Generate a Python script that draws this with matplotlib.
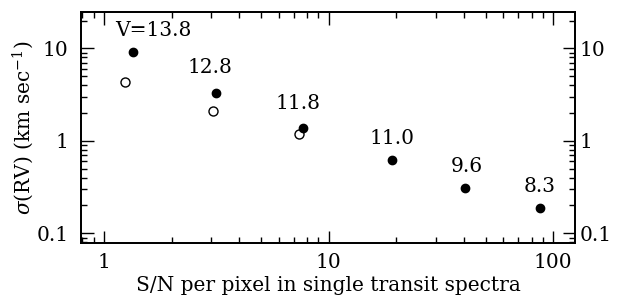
import matplotlib
matplotlib.use("Agg")
import matplotlib.pyplot as plt
from matplotlib.ticker import LogLocator, FuncFormatter, NullFormatter

# Data
snr_filled = [1.35, 3.14, 7.7, 19.2, 40.4, 86.9]
sig_filled = [9.2, 3.31, 1.37, 0.615, 0.306, 0.189]
snr_open = [1.245, 3.07, 7.39]
sig_open = [4.33, 2.1, 1.18]
vmag_labels = ["V=13.8", "12.8", "11.8", "11.0", "9.6", "8.3"]
label_offsets = [(14.4, 15.0), (-4.3, 18.2), (-4, 17.5), (0, 16.0), (1.4, 15.5), (0, 15.5)]

plt.rcParams['font.family'] = ['DejaVu Serif']
plt.rcParams['mathtext.fontset'] = 'dejavuserif'
FS = 14.5

fig = plt.figure(figsize=(6.17, 2.98), dpi=100)
ax = fig.add_axes([0.1313, 0.1846, 0.932 - 0.1313, 0.9607 - 0.1846])

ax.plot(snr_filled, sig_filled, 'o', color='black', markersize=6, zorder=3)
ax.plot(snr_open, sig_open, 'o', markerfacecolor='white', markeredgecolor='black',
        markeredgewidth=1.0, markersize=6.5, zorder=2)

for x, y, lab, off in zip(snr_filled, sig_filled, vmag_labels, label_offsets):
    ax.annotate(lab, (x, y), xytext=off, textcoords='offset points',
                ha='center', va='center', fontsize=FS)

ax.set_xscale('log')
ax.set_yscale('log')
ax.set_xlim(0.79, 125)
ax.set_ylim(0.0786, 24.9)

ax2 = ax.twinx()
ax2.set_yscale('log')
ax2.set_ylim(ax.get_ylim())

fmt = FuncFormatter(lambda v, p: '%g' % v)
for axis in (ax.xaxis, ax.yaxis, ax2.yaxis):
    axis.set_major_locator(LogLocator(base=10, numticks=10))
    axis.set_minor_locator(LogLocator(base=10, subs=range(2, 10), numticks=10))
    axis.set_major_formatter(fmt)
    axis.set_minor_formatter(NullFormatter())

ax.tick_params(which='both', direction='in', top=True, right=False,
               labelsize=FS, width=1.0)
ax.tick_params(which='major', length=9, pad=7)
ax.tick_params(which='minor', length=4.3)
ax.tick_params(axis='y', which='major', pad=9)
ax2.tick_params(which='both', direction='in', labelsize=FS, width=1.0)
ax2.tick_params(which='major', length=9, pad=3.5)
ax2.tick_params(which='minor', length=4.3)
for a in (ax, ax2):
    for s in a.spines.values():
        s.set_linewidth(1.3)

ax.set_xlabel('S/N per pixel in single transit spectra', fontsize=FS, labelpad=3)
ax.set_ylabel(r'$\sigma$(RV) (km sec$^{-1}$)', fontsize=FS, labelpad=0)

fig.savefig('out.png', dpi=100)
